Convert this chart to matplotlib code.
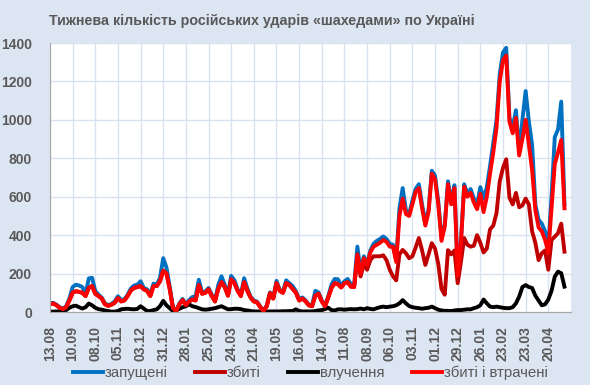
import numpy as np
import matplotlib
matplotlib.use("Agg")
import matplotlib.pyplot as plt

plt.rcParams['font.family'] = ['Liberation Sans', 'DejaVu Sans']

# weekly counts, one reading every 4 days starting 13.08
launched = [45, 48, 38, 25, 18, 30, 70, 130, 142, 138, 130, 95, 175, 178, 110, 90, 75, 45, 36, 42,
            55, 82, 62, 66, 90, 122, 138, 142, 160, 125, 118, 90, 148, 142, 178, 280, 232, 132, 25, 8,
            45, 68, 40, 62, 78, 80, 168, 102, 106, 125, 90, 60, 140, 186, 142, 92, 188, 165, 118, 90,
            176, 122, 80, 60, 54, 28, 8, 34, 102, 74, 162, 116, 106, 165, 150, 135, 108, 65, 76, 60,
            38, 34, 110, 102, 60, 33, 82, 143, 172, 170, 135, 160, 172, 145, 140, 340, 210, 290, 250, 320,
            355, 370, 380, 393, 380, 355, 350, 270, 540, 645, 530, 510, 580, 640, 665, 560, 460, 535, 735, 710,
            575, 385, 455, 680, 575, 660, 200, 370, 665, 615, 640, 590, 560, 650, 590, 650, 760, 880, 1000, 1240,
            1350, 1375, 1010, 960, 1050, 830, 1000, 1150, 990, 870, 560, 480, 460, 420, 340, 600, 910, 950, 1095, 560]

shot_lost = [40, 44, 35, 22, 15, 25, 60, 100, 108, 105, 100, 83, 126, 135, 95, 83, 70, 40, 32, 38,
             48, 72, 55, 60, 83, 112, 125, 130, 135, 118, 110, 83, 135, 135, 160, 215, 200, 120, 20, 5,
             40, 62, 35, 55, 65, 60, 140, 95, 100, 118, 83, 55, 120, 155, 130, 85, 170, 150, 110, 83,
             155, 110, 75, 55, 50, 25, 5, 30, 98, 70, 150, 110, 100, 150, 140, 120, 100, 60, 70, 55,
             35, 30, 85, 95, 55, 30, 75, 125, 150, 145, 128, 150, 155, 132, 130, 300, 200, 280, 245, 310,
             340, 350, 360, 375, 365, 340, 340, 260, 500, 590, 510, 500, 560, 625, 645, 540, 450, 520, 720, 690,
             560, 370, 444, 665, 560, 645, 190, 357, 652, 600, 620, 570, 535, 615, 520, 600, 720, 830, 960, 1200,
             1310, 1335, 990, 930, 1010, 815, 900, 1000, 870, 740, 530, 440, 420, 375, 310, 540, 770, 830, 895, 540]

shot = [40, 44, 35, 22, 15, 25, 60, 100, 108, 105, 100, 83, 126, 135, 95, 83, 70, 40, 32, 38,
        48, 72, 55, 60, 83, 112, 125, 130, 135, 118, 110, 83, 135, 135, 160, 215, 200, 120, 20, 5,
        40, 62, 35, 55, 65, 60, 140, 95, 100, 118, 83, 55, 120, 155, 130, 85, 170, 150, 110, 83,
        155, 110, 75, 55, 50, 25, 5, 30, 98, 70, 150, 110, 100, 150, 140, 120, 100, 60, 70, 55,
        35, 30, 85, 95, 55, 30, 75, 125, 150, 145, 128, 150, 155, 132, 130, 280, 185, 250, 220, 270,
        290, 290, 290, 295, 270, 220, 186, 165, 300, 323, 306, 280, 290, 335, 385, 320, 245, 300, 358, 330,
        250, 120, 90, 322, 300, 320, 150, 260, 385, 350, 340, 345, 400, 360, 310, 330, 430, 450, 515, 680,
        750, 795, 595, 560, 620, 545, 555, 590, 560, 420, 360, 270, 306, 320, 220, 375, 392, 410, 460, 314]

hits = [2, 2, 3, 3, 5, 10, 22, 30, 33, 25, 18, 25, 44, 35, 22, 15, 12, 8, 5, 2,
        2, 5, 14, 16, 17, 15, 14, 16, 30, 18, 5, 5, 10, 14, 30, 58, 35, 20, 5, 8,
        17, 25, 30, 40, 30, 26, 20, 14, 12, 14, 17, 20, 25, 30, 22, 14, 15, 17, 17, 15,
        10, 8, 5, 3, 3, 2, 2, 2, 3, 3, 3, 3, 4, 4, 5, 5, 14, 5, 3, 3,
        3, 3, 5, 8, 10, 15, 22, 10, 8, 14, 14, 12, 14, 15, 14, 15, 18, 14, 20, 16,
        14, 20, 25, 28, 25, 28, 30, 35, 45, 62, 45, 31, 25, 22, 20, 17, 20, 22, 28, 20,
        12, 8, 6, 6, 5, 8, 10, 10, 12, 14, 14, 20, 25, 35, 65, 45, 28, 25, 28, 25,
        22, 20, 20, 25, 45, 80, 130, 140, 130, 125, 85, 60, 35, 40, 65, 110, 184, 210, 202, 132]

tick_labels = ['13.08', '10.09', '08.10', '05.11', '03.12', '31.12', '28.01', '25.02',
               '24.03', '21.04', '19.05', '16.06', '14.07', '11.08', '08.09', '06.10',
               '03.11', '01.12', '29.12', '26.01', '23.02', '23.03', '20.04']

title = 'Тижнева кількість російських ударів «шахедами» по Україні'

day_step = 4
days = np.arange(len(launched)) * day_step

fig = plt.figure(figsize=(5.9, 3.85), dpi=100)
fig.patch.set_facecolor('#DCE6F2')
ax = fig.add_axes([0.0847, 0.1896, 0.883, 0.6987])
ax.set_facecolor('white')

ax.plot(days, launched, color='#0070C0', lw=2.8, label='запущені', solid_joinstyle='round')
ax.plot(days, shot, color='#C00000', lw=2.8, label='збиті', solid_joinstyle='round')
ax.plot(days, hits, color='black', lw=2.8, label='влучення', solid_joinstyle='round')
ax.plot(days, shot_lost, color='#FF0000', lw=2.8, label='збиті і втрачені', solid_joinstyle='round')

ax.set_xlim(0, 644)
ax.set_ylim(0, 1400)
ax.set_yticks(range(0, 1401, 200))
ax.set_xticks(np.arange(len(tick_labels)) * 28)
ax.set_xticklabels(tick_labels, rotation=90)
ax.grid(True, color='#D9E3F0', lw=1)
ax.set_axisbelow(True)
for s in ['top', 'right']:
    ax.spines[s].set_visible(False)
for s in ['left', 'bottom']:
    ax.spines[s].set_color('#A6A6A6')
ax.tick_params(length=0, colors='#595959', labelsize=10)
ax.tick_params(axis='y', pad=13)
ax.tick_params(axis='x', pad=10)
for lab in ax.get_xticklabels() + ax.get_yticklabels():
    lab.set_fontweight('bold')

fig.text(0.443, 0.945, title, ha='center', va='center', fontsize=10.3,
         fontweight='bold', color='#595959', family=['Liberation Sans', 'DejaVu Sans'])

fig.legend(loc='center', bbox_to_anchor=(0.526, 0.031), ncol=4, frameon=False,
           fontsize=10.8, handlelength=2.0, columnspacing=1.85, handletextpad=0.1,
           labelcolor='#595959')

fig.savefig('out.png', dpi=100, facecolor=fig.get_facecolor())
